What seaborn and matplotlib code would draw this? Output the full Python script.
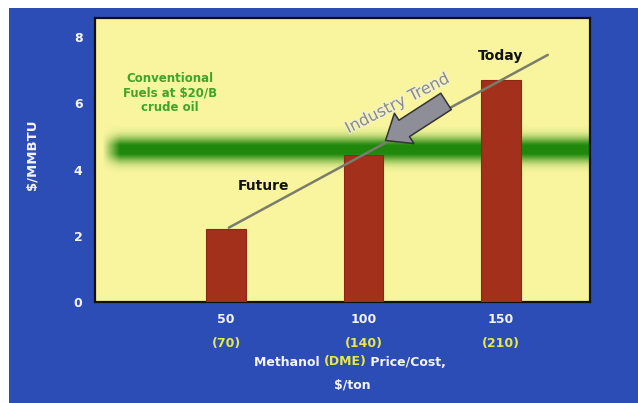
import numpy as np
import matplotlib
matplotlib.use("Agg")
import matplotlib.pyplot as plt
import seaborn as sns
from matplotlib.offsetbox import TextArea, HPacker, AnnotationBbox
import matplotlib.patheffects as pe

# --- data ---------------------------------------------------------------
price_labels = ["50", "100", "150"]          # methanol price, $/ton
dme_labels = ["(70)", "(140)", "(210)"]      # DME equivalent, $/ton
cost_mmbtu = [2.2, 4.45, 6.7]                 # $/MMBTU
y_ticks = [0, 2, 4, 6, 8]
conventional_level = 4.62                     # conventional fuels at $20/B crude

BLUE = "#2c4db5"
YELLOW_BG = "#f8f59e"
BAR = "#a2301a"
WHITE = "#f4f4f4"
LABEL_YELLOW = "#e6e84c"
GREEN_TXT = "#3fa427"

sns.set_style("white")
plt.rcParams["font.family"] = ["DejaVu Sans"]

fig = plt.figure(figsize=(6.38, 4.03), dpi=100)
fig.patch.set_facecolor("white")

# slide background panel
bg = fig.add_axes([9 / 638, 0, 1 - 9 / 638, 1 - 8 / 403])
bg.set_facecolor(BLUE)
bg.set_xticks([]); bg.set_yticks([])
for s in bg.spines.values():
    s.set_visible(False)

ax = fig.add_axes([95 / 638, 101 / 403, 495 / 638, 284 / 403])
ax.set_facecolor(YELLOW_BG)

ax.set_xlim(-0.953, 2.647)
ax.set_ylim(0, 8.58)

# soft green band for the conventional fuel cost level
yy = np.linspace(conventional_level - 0.8, conventional_level + 0.8, 240)
d = (yy - conventional_level) / 0.36
alpha = np.clip(1.1 * np.exp(-np.abs(d) ** 2.2), 0, 1)
xx = np.linspace(0, 1, 300)
xalpha = np.clip(xx / 0.035, 0, 1)
rgba = np.zeros((240, 300, 4))
rgba[..., 0] = 0.12
rgba[..., 1] = 0.53
rgba[..., 2] = 0.05
rgba[..., 3] = alpha[:, None] * xalpha[None, :]
ax.imshow(rgba, extent=[-0.9, 2.647, yy[0], yy[-1]], origin="lower",
          aspect="auto", zorder=1, interpolation="bilinear")

sns.barplot(x=price_labels, y=cost_mmbtu, ax=ax, color=BAR, saturation=1,
            width=0.29, edgecolor="#8a2a14", linewidth=0.8, zorder=3)
ax.set_xlim(-0.953, 2.647)
ax.set_ylim(0, 8.58)

# industry trend line fitted through the bar tops
pos = np.arange(len(cost_mmbtu))
slope, icpt = np.polyfit(pos, cost_mmbtu, 1)
tx = np.array([0.02, 2.34])
ax.plot(tx, icpt + slope * tx, color="#7c7c6c", lw=1.8, zorder=4)

# axes styling
for s in ax.spines.values():
    s.set_color("#111111")
    s.set_linewidth(1.6)
ax.set_yticks(y_ticks)
ax.set_yticklabels([str(v) for v in y_ticks])
ax.tick_params(axis="y", direction="in", length=13, width=2, color="#5a5a4a",
               pad=9, labelcolor=WHITE, labelsize=9)
for lbl in ax.get_yticklabels():
    lbl.set_fontweight("bold")
ax.tick_params(axis="x", length=0, pad=8, labelcolor=WHITE, labelsize=9)
for lbl in ax.get_xticklabels():
    lbl.set_fontweight("bold")
ax.set_xlabel("")
ax.set_ylabel("$/MMBTU", color=WHITE, fontsize=9.5, fontweight="bold")
ax.yaxis.set_label_coords(-0.114, 0.52)

# DME equivalents under the methanol prices
for i, t in enumerate(dme_labels):
    ax.annotate(t, xy=(i, 0), xycoords=("data", "axes fraction"),
                xytext=(0, -30), textcoords="offset points", ha="center", va="center",
                color=LABEL_YELLOW, fontsize=9, fontweight="bold")

# two-colour axis title
parts = [TextArea("Methanol ", textprops=dict(color=WHITE, fontsize=9, fontweight="bold")),
         TextArea("(DME)", textprops=dict(color=LABEL_YELLOW, fontsize=9, fontweight="bold")),
         TextArea(" Price/Cost,", textprops=dict(color=WHITE, fontsize=9, fontweight="bold"))]
box = HPacker(children=parts, align="baseline", pad=0, sep=0)
fig.add_artist(AnnotationBbox(box, (350 / 638, 1 - 362 / 403), xycoords="figure fraction",
                              frameon=False, box_alignment=(0.5, 0.5)))
fig.text(352 / 638, 1 - 385 / 403, "$/ton", color=WHITE, fontsize=9, fontweight="bold",
         ha="center", va="center")

# annotations
ax.text(-0.41, 6.3, "Conventional\nFuels at $20/B\ncrude oil", color=GREEN_TXT,
        fontsize=8.5, fontweight="bold", ha="center", va="center", linespacing=1.15,
        zorder=5)
ax.text(2.0, 7.42, "Today", fontsize=10, fontweight="bold", color="#111111",
        ha="center", va="center", zorder=5)
ax.text(0.27, 3.5, "Future", fontsize=10, fontweight="bold", color="#111111",
        ha="center", va="center", zorder=5)
ax.text(1.25, 6.0, "Industry Trend", fontsize=11.5, color="#8a8a84", rotation=27,
        ha="center", va="center", zorder=5,
        path_effects=[pe.withStroke(linewidth=1.6, foreground="#f2f0d6")])
ax.annotate("", xy=(1.16, 4.88), xytext=(1.6, 6.06),
            arrowprops=dict(arrowstyle="simple,head_length=0.8,head_width=1.3,tail_width=0.7",
                            fc="#8e8e98", ec="#333333", lw=1.1, mutation_scale=20,
                            shrinkA=0, shrinkB=0),
            zorder=6)

fig.savefig("out.png", dpi=100)
